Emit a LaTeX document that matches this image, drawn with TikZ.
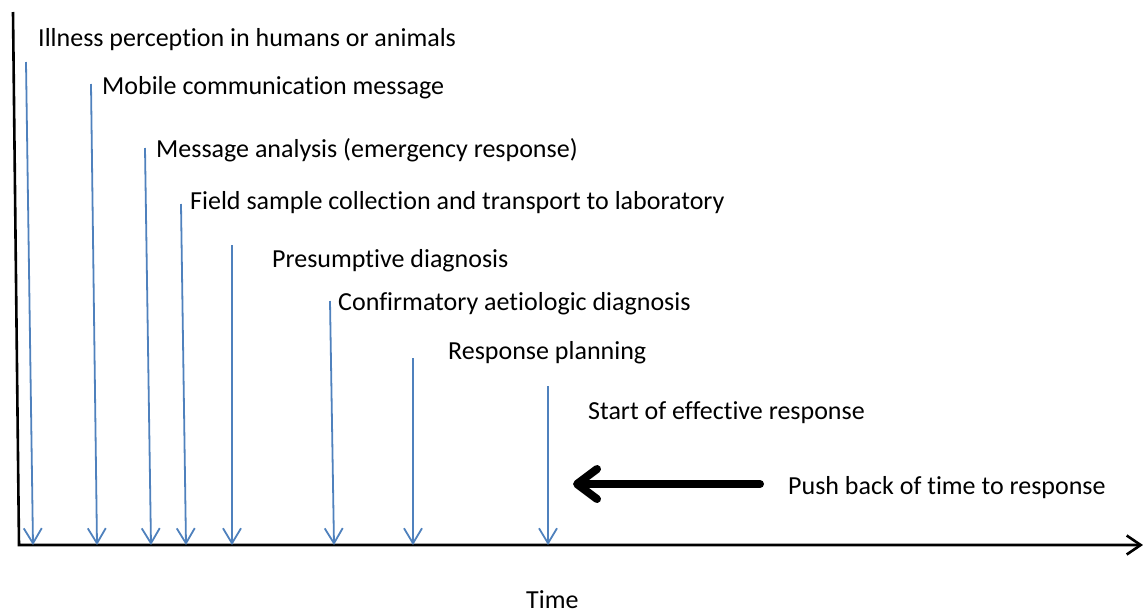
\documentclass[tikz,border=0pt]{standalone}
\usepackage{fontspec}
\setmainfont{Carlito}[RawFeature={-liga}]
\usepackage{xcolor}
\usetikzlibrary{arrows.meta}
\definecolor{stepblue}{HTML}{4F81BD}

\begin{document}
\begin{tikzpicture}[
  x=1pt, y=-1pt,
  >=Stealth,
  lbl/.style={anchor=base west, inner sep=0pt, font=\fontsize{26}{31}\selectfont},
  evt/.style={stepblue, line width=1.8pt, -{Straight Barb[length=15pt, width=18pt]}},
  axis/.style={black, line width=2.6pt, line join=miter, -{Straight Barb[length=14pt, width=19pt]}},
  pushback/.style={black, line width=8pt, line cap=round, -{Straight Barb[length=20pt, width=30pt, round]}},
]
\useasboundingbox (0,0) rectangle (1143,614);

% --- Axes ---
\coordinate (ytop) at (13,12);
\coordinate (origin) at (19,545);
\coordinate (xend) at (1143,545);
\draw[axis] (ytop) -- (origin) -- (xend);

% --- Events along the time line ---
\foreach \i/\xt/\yt/\xb/\xl/\yl/\txt in {
  1/26/62/33/38/46/{Illness perception in humans or animals},
  2/91/84/97/102/94/{Mobile communication message},
  3/145/148/151/156/157/{Message analysis (emergency response)},
  4/181/204/186/190/209/{Field sample collection and transport to laboratory},
  5/232/245/232/272/267/{Presumptive diagnosis},
  6/330/301/334/338/310/{Confirmatory aetiologic diagnosis},
  7/413/358/413/448/359/{Response planning},
  8/548/386/548/588/419/{Start of effective response}} {
  \node[lbl] (ev\i) at (\xl,\yl) {\txt};
  \coordinate (top\i) at (\xt,\yt);
  \coordinate (bot\i) at (\xb,545);
  \draw[evt] (top\i) -- (bot\i);
}

% --- Push back arrow ---
\node[lbl] (push) at (788,494) {Push back of time to response};
\coordinate (pushstart) at (760,484);
\coordinate (pushend) at (573,484);
\draw[pushback] (pushstart) -- (pushend);

% --- Axis label ---
\node[lbl] (time) at (526,608) {Time};

\end{tikzpicture}
\end{document}
